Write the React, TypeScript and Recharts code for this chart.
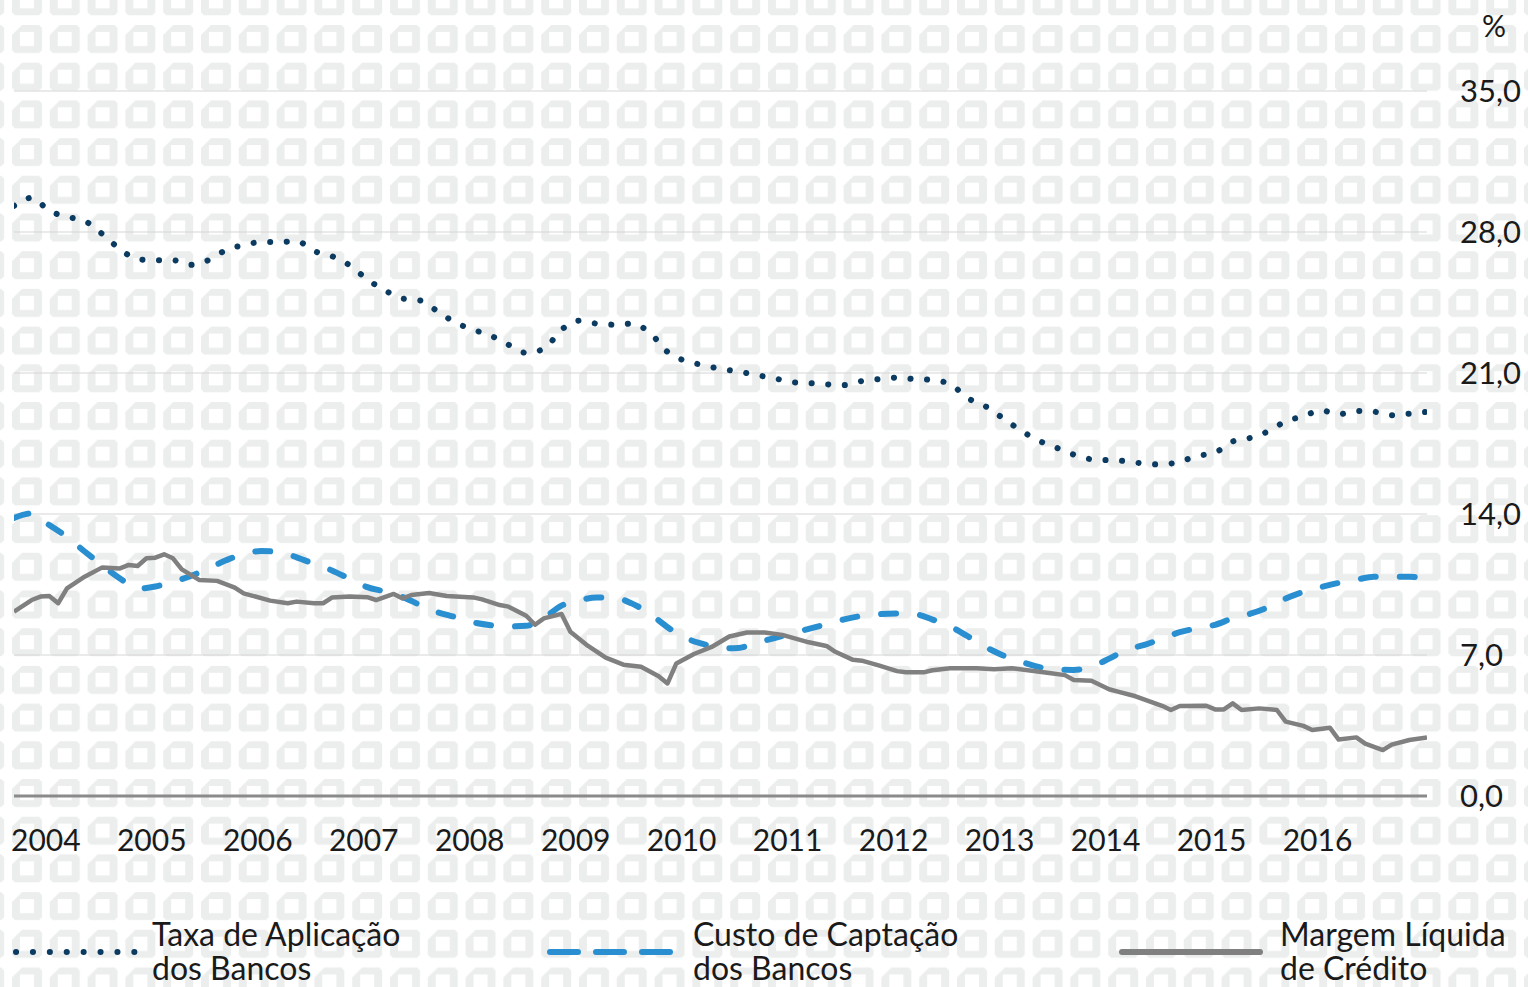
import React from 'react';
import { LineChart, Line, XAxis, YAxis, CartesianGrid, Legend } from 'recharts';

const FONT = 'Lato, "Open Sans", "DejaVu Sans", sans-serif';
const TEXT_COLOR = '#1a1a1a';

// ---- Data (monthly index from Jan 2004) ----
const yearLabels = ['2004', '2005', '2006', '2007', '2008', '2009', '2010', '2011', '2012', '2013', '2014', '2015', '2016'];
const yTicks = [0, 7, 14, 21, 28, 35];

// Bimonthly readings (Jan 2004, Mar 2004, ...)
const taxaAplicacao = [
  29.3, 29.7, 29.05, 28.75, 28.55, 27.9, 27.15, 26.65, 26.6, 26.6,
  26.37, 26.6, 27.1, 27.35, 27.5, 27.5, 27.55, 27.05, 26.8, 26.35,
  25.65, 25.1, 24.7, 24.6, 24.05, 23.5, 23.15, 22.85, 22.4, 22.0,
  22.2, 23.15, 23.6, 23.45, 23.4, 23.45, 23.0, 22.05, 21.6, 21.4,
  21.2, 21.08, 20.9, 20.75, 20.55, 20.5, 20.44, 20.4, 20.6, 20.7,
  20.77, 20.7, 20.65, 20.45, 19.75, 19.35, 18.75, 18.15, 17.65, 17.3,
  16.95, 16.72, 16.67, 16.62, 16.5, 16.46, 16.6, 16.88, 17.05, 17.6,
  17.78, 18.1, 18.6, 18.85, 19.15, 18.95, 19.12, 19.08, 18.9, 18.98,
  19.07,
];

const custoCaptacao = [
  13.8, 14.03, 13.45, 12.86, 12.14, 11.45, 10.8, 10.3, 10.4, 10.63,
  10.92, 11.3, 11.7, 12.02, 12.16, 12.12, 11.85, 11.52, 11.2, 10.78,
  10.37, 10.15, 9.88, 9.48, 9.12, 8.88, 8.62, 8.48, 8.42, 8.45,
  8.85, 9.45, 9.72, 9.85, 9.84, 9.55, 9.05, 8.38, 7.85, 7.55,
  7.33, 7.35, 7.6, 7.83, 8.07, 8.3, 8.53, 8.77, 8.94, 9.03,
  9.06, 9.03, 8.76, 8.42, 7.93, 7.4, 6.98, 6.67, 6.41, 6.28,
  6.26, 6.42, 6.82, 7.26, 7.5, 7.82, 8.13, 8.33, 8.5, 8.82,
  9.05, 9.37, 9.8, 10.13, 10.37, 10.58, 10.74, 10.89, 10.89, 10.88,
  10.86,
];

const margemMonths = [
  0, 2, 3, 4, 5, 6, 8, 10, 12, 13, 14, 15, 16, 17, 18, 19, 21, 23, 25, 26,
  29, 31, 32, 34, 35, 36, 38, 40, 41, 43, 44, 45, 47, 49, 52, 53, 55, 56, 58, 59,
  60, 62, 63, 65, 67, 69, 71, 73, 74, 75, 77, 79, 81, 83, 85, 87, 90, 92, 93, 95,
  96, 98, 100, 101, 103, 104, 106, 109, 111, 113, 117, 119, 120, 122, 124, 125, 127, 130, 131, 132,
  135, 136, 137, 138, 139, 141, 143, 144, 146, 147, 149, 150, 152, 153, 155, 156, 158, 160,
];
const margemValues = [
  9.15, 9.73, 9.9, 9.93, 9.57, 10.31, 10.89, 11.35, 11.3, 11.47, 11.42, 11.8, 11.83, 12.0, 11.8, 11.25, 10.72, 10.68, 10.35, 10.06,
  9.7, 9.57, 9.65, 9.57, 9.57, 9.85, 9.9, 9.87, 9.73, 10.03, 9.81, 9.98, 10.08, 9.93, 9.86, 9.76, 9.48, 9.4, 8.95, 8.5,
  8.82, 9.04, 8.16, 7.45, 6.87, 6.52, 6.42, 5.95, 5.59, 6.58, 7.05, 7.4, 7.92, 8.12, 8.12, 8.0, 7.63, 7.45, 7.16, 6.76,
  6.72, 6.47, 6.2, 6.14, 6.14, 6.24, 6.34, 6.34, 6.29, 6.34, 6.12, 6.0, 5.76, 5.72, 5.3, 5.18, 4.95, 4.48, 4.27, 4.47,
  4.48, 4.3, 4.3, 4.6, 4.27, 4.35, 4.27, 3.69, 3.48, 3.28, 3.39, 2.8, 2.91, 2.6, 2.28, 2.55, 2.78, 2.91,
];

const seriesNames = {
  taxa: ['Taxa de Aplicação', 'dos Bancos'],
  custo: ['Custo de Captação', 'dos Bancos'],
  margem: ['Margem Líquida', 'de Crédito'],
};

const taxaData = taxaAplicacao.map((v, k) => ({ m: k * 2, v }));
const custoData = custoCaptacao.map((v, k) => ({ m: k * 2, v }));
const margemData = margemMonths.map((m, k) => ({ m, v: margemValues[k] }));
const xTicks = yearLabels.map((_, k) => k * 12);

const COLORS = { taxa: '#0b3b60', custo: '#2a8fd0', margem: '#808080' };

const XTick = (props: any) => {
  const { x, y, payload } = props;
  const label = yearLabels[Math.round(payload.value / 12)];
  return (
    <text x={x - 3} y={y + 55} textAnchor="start" fontFamily={FONT} fontSize={30} fill={TEXT_COLOR}>
      {label}
    </text>
  );
};

const YTick = (props: any) => {
  const { x, y, payload } = props;
  const label = Number(payload.value).toFixed(1).replace('.', ',');
  return (
    <text x={x + 33} y={y + 11} textAnchor="start" fontFamily={FONT} fontSize={31} fill={TEXT_COLOR}>
      {label}
    </text>
  );
};

const PercentLabel = (props: any) => {
  const vb = props.viewBox || {};
  return (
    <text x={vb.x + 67} y={vb.y - 54} textAnchor="middle" fontFamily={FONT} fontSize={30} fill={TEXT_COLOR}>
      %
    </text>
  );
};

const legendItems = [
  { key: 'taxa', x1: 16, x2: 136, tx: 152, dash: '0.1 16.8', width: 6, lines: seriesNames.taxa },
  { key: 'custo', x1: 550, x2: 678, tx: 693, dash: '28 18', width: 6, lines: seriesNames.custo },
  { key: 'margem', x1: 1122, x2: 1260, tx: 1280, dash: undefined, width: 6, lines: seriesNames.margem },
];

const renderLegend = () => (
  <svg width={1528} height={87} style={{ display: 'block', overflow: 'visible' }}>
    {legendItems.map((it) => (
      <g key={it.key}>
        <line
          x1={it.x1}
          x2={it.x2}
          y1={52}
          y2={52}
          stroke={(COLORS as any)[it.key]}
          strokeWidth={it.width}
          strokeDasharray={it.dash}
          strokeLinecap="round"
        />
        <text x={it.tx} y={46} fontFamily={FONT} fontSize={32} fill={TEXT_COLOR}>
          {it.lines[0]}
        </text>
        <text x={it.tx} y={80} fontFamily={FONT} fontSize={32} fill={TEXT_COLOR}>
          {it.lines[1]}
        </text>
      </g>
    ))}
  </svg>
);

const Background = () => (
  <svg width={1528} height={987} style={{ position: 'absolute', left: 0, top: 0 }}>
    <defs>
      <pattern id="bgTile" x={12} y={25} width={37.8} height={37.7} patternUnits="userSpaceOnUse">
        <path
          d="M10 0 L27 0 L30 3 L30 25 L27 28 L3 28 L0 25 L0 10 Z M8 7 L8 21 L22 21 L22 7 Z"
          fill="#eceded"
          fillRule="evenodd"
        />
      </pattern>
    </defs>
    <rect x={0} y={0} width={1528} height={987} fill="#ffffff" />
    <rect x={0} y={0} width={1528} height={987} fill="url(#bgTile)" />
  </svg>
);

export default function App() {
  return (
    <div style={{ position: 'absolute', left: 0, top: 0, width: 1528, height: 987, overflow: 'hidden', background: '#fff' }}>
      <Background />
      <div style={{ position: 'absolute', left: 0, top: 0 }}>
        <LineChart width={1528} height={987} margin={{ top: 91, right: 0, bottom: 0, left: 14 }}>
          <CartesianGrid horizontal vertical={false} stroke="#d6d6d6" strokeWidth={1.2} />
          <XAxis
            type="number"
            dataKey="m"
            domain={[0, 160]}
            ticks={xTicks}
            tick={<XTick />}
            tickLine={false}
            tickSize={0}
            tickMargin={0}
            height={191}
            axisLine={{ stroke: '#8a8a8a', strokeWidth: 3 }}
            allowDataOverflow
          />
          <YAxis
            orientation="right"
            type="number"
            domain={[0, 35]}
            ticks={yTicks}
            tick={<YTick />}
            tickLine={false}
            tickSize={0}
            tickMargin={0}
            axisLine={false}
            width={101}
            label={<PercentLabel />}
          />
          <Legend verticalAlign="middle" align="center" layout="horizontal" content={renderLegend} wrapperStyle={{ left: 0, top: 900, width: 1528, height: 87 }} />
          <Line
            data={custoData}
            dataKey="v"
            name="Custo de Captação dos Bancos"
            type="monotone"
            stroke={COLORS.custo}
            strokeWidth={6}
            strokeDasharray="15 24"
            strokeLinecap="round"
            dot={false}
            activeDot={false}
            isAnimationActive={false}
          />
          <Line
            data={margemData}
            dataKey="v"
            name="Margem Líquida de Crédito"
            type="linear"
            stroke={COLORS.margem}
            strokeWidth={4.5}
            strokeLinejoin="round"
            dot={false}
            activeDot={false}
            isAnimationActive={false}
          />
          <Line
            data={taxaData}
            dataKey="v"
            name="Taxa de Aplicação dos Bancos"
            type="monotone"
            stroke={COLORS.taxa}
            strokeWidth={6}
            strokeDasharray="0.1 16.5"
            strokeLinecap="round"
            dot={false}
            activeDot={false}
            isAnimationActive={false}
          />
        </LineChart>
      </div>
    </div>
  );
}
